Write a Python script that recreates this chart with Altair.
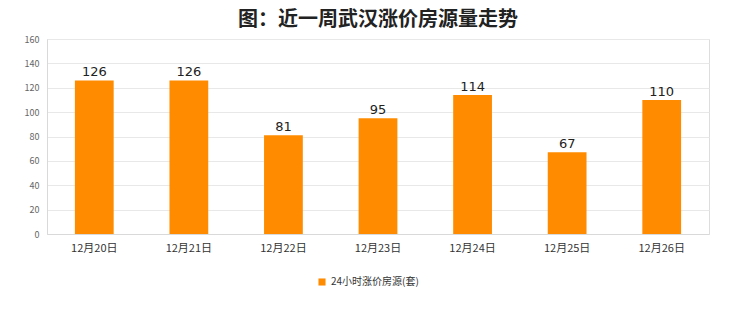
import altair as alt
import pandas as pd

dates = ["12月20日", "12月21日", "12月22日", "12月23日", "12月24日", "12月25日", "12月26日"]
values = [126, 126, 81, 95, 114, 67, 110]
y_ticks = [0, 20, 40, 60, 80, 100, 120, 140, 160]
series_name = "24小时涨价房源(套)"

df = pd.DataFrame({"date": dates, "value": values, "series": [series_name] * len(dates)})

font = "Noto Sans CJK SC"

base = alt.Chart(df).encode(
    x=alt.X("date:N", sort=dates, title=None,
            scale=alt.Scale(paddingInner=0.59, paddingOuter=0.295),
            axis=alt.Axis(labelAngle=0, ticks=False, labelFontSize=11, labelColor="#333333",
                          labelFont=font, labelPadding=8, domainColor="#d9d9d9", grid=False)),
    y=alt.Y("value:Q", title=None,
            scale=alt.Scale(domain=[0, 160]),
            axis=alt.Axis(values=y_ticks, tickCount=9, ticks=False, labelFontSize=9,
                          labelColor="#666666", labelFont=font, labelPadding=8,
                          labelOverlap=False, labelBound=False,
                          gridColor="#e8e8e8", domainColor="#d9d9d9")),
)

bars = base.mark_bar(color="#FF8C00").encode(
    color=alt.Color("series:N", scale=alt.Scale(range=["#FF8C00"]),
                    legend=alt.Legend(title=None, orient="none", legendX=270, legendY=238,
                                      symbolType="square", symbolSize=50, labelFontSize=10,
                                      labelColor="#333333", labelFont=font, symbolStrokeWidth=0)),
)

labels = base.mark_text(dy=-8, fontSize=13, color="#222222", font="DejaVu Sans").encode(
    text=alt.Text("value:Q"),
)

chart = (bars + labels).properties(
    width=662,
    height=195,
    autosize=alt.AutoSizeParams(type="none"),
    padding={"left": 47, "top": 39, "right": 31, "bottom": 78},
    title=alt.TitleParams("图：近一周武汉涨价房源量走势", fontSize=20, font=font, fontWeight="bold",
                          color="#222222", anchor="middle", offset=5),
).configure_view(stroke="#e6e6e6").configure(background="white")

chart.save("out.html", embed_options={"renderer": "svg", "actions": False})
